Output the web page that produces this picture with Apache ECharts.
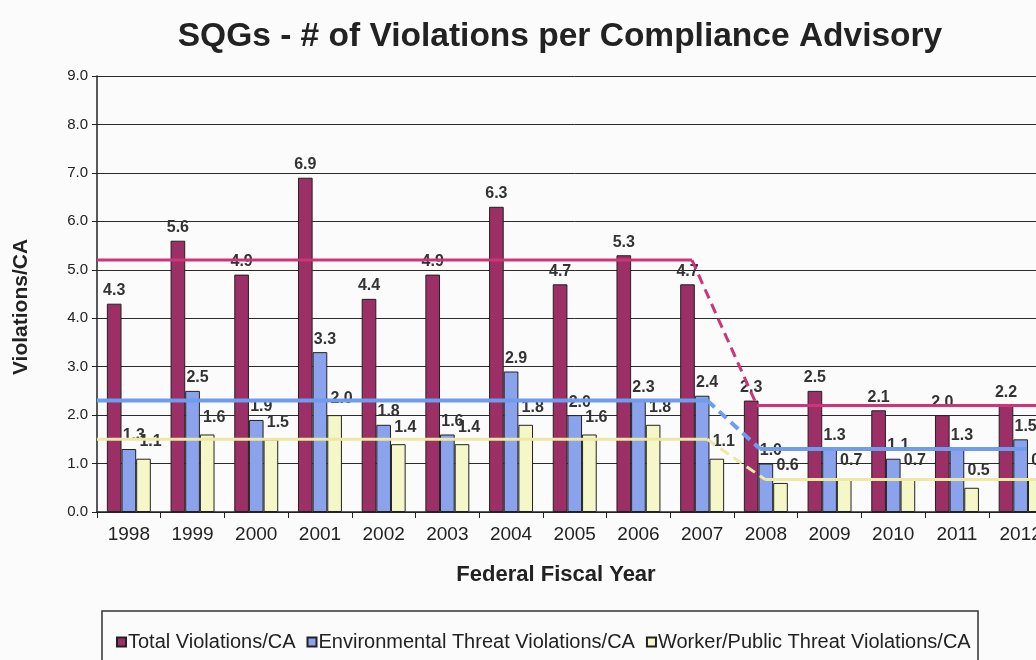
<!DOCTYPE html>
<html>
<head>
<meta charset="utf-8">
<script src="https://cdn.jsdelivr.net/npm/echarts@6/dist/echarts.min.js"></script>
<style>
  html, body { margin: 0; padding: 0; overflow: hidden; background: #fbfbfb; }
  #chart { width: 1120px; height: 660px; }
</style>
</head>
<body>
<div id="chart"></div>
<script>
// ---- data ----
const years = ['1998','1999','2000','2001','2002','2003','2004','2005','2006','2007','2008','2009','2010','2011','2012'];
const totalViol  = [4.3, 5.6, 4.9, 6.9, 4.4, 4.9, 6.3, 4.7, 5.3, 4.7, 2.3, 2.5, 2.1, 2.0, 2.2];
const envViol    = [1.3, 2.5, 1.9, 3.3, 1.8, 1.6, 2.9, 2.0, 2.3, 2.4, 1.0, 1.3, 1.1, 1.3, 1.5];
const workerViol = [1.1, 1.6, 1.5, 2.0, 1.4, 1.4, 1.8, 1.6, 1.8, 1.1, 0.6, 0.7, 0.7, 0.5, 0.7];
// period averages (before / after 2008)
const avgTotal  = [5.2, 2.2];
const avgEnv    = [2.3, 1.3];
const avgWorker = [1.5, 0.67];
const lastYearBefore = 2007;
const firstYearAfter = 2008;
const yTickMin = 0, yTickMax = 9, yTickStep = 1;

const seriesNames = ['Total Violations/CA', 'Environmental Threat Violations/CA', 'Worker/Public Threat Violations/CA'];

// ---- styles ----
const barColors  = ['#9b2f66', '#8aa3ec', '#f6f7c9'];
const lineColors = ['#cf3478', '#6f9ced', '#eee8a2'];
const lineWidths = [3, 4, 3];
// where each average line breaks, relative to the period boundary years (layout)
const breakShift = [[-0.16, -0.14], [0.08, -0.09], [0.08, -0.01]];
const lineEnd = [2012.5, 2012.1, 2012.5];
const labelOffsets = [[0, 0], [5, 0], [7, -4]];
const FONT = 'Liberation Sans, Arial, sans-serif';

const chart = echarts.init(document.getElementById('chart'), null, { renderer: 'canvas' });

const barSeries = [totalViol, envViol, workerViol].map((vals, i) => ({
  name: seriesNames[i],
  type: 'bar',
  xAxisIndex: 0,
  yAxisIndex: 0,
  data: vals,
  barGap: '0%',
  barCategoryGap: '31%',
  z: 2,
  itemStyle: { color: barColors[i], borderColor: '#222', borderWidth: 1 },
  label: {
    show: true,
    position: 'top',
    distance: 5,
    offset: labelOffsets[i],
    formatter: p => Number(p.value).toFixed(1),
    fontFamily: FONT,
    fontSize: 16,
    fontWeight: 'bold',
    color: '#333'
  }
}));

const lineSeries = [];
[avgTotal, avgEnv, avgWorker].forEach((avg, i) => {
  const xBreak1 = lastYearBefore + breakShift[i][0];
  const xBreak2 = firstYearAfter + breakShift[i][1];
  const common = {
    type: 'line', xAxisIndex: 1, yAxisIndex: 0, symbol: 'none', silent: true, z: 5,
    animation: false
  };
  lineSeries.push(Object.assign({}, common, {
    data: [[1997.5, avg[0]], [xBreak1, avg[0]]],
    lineStyle: { color: lineColors[i], width: lineWidths[i], type: 'solid' }
  }));
  lineSeries.push(Object.assign({}, common, {
    data: [[xBreak1, avg[0]], [xBreak2, avg[1]]],
    lineStyle: { color: lineColors[i], width: lineWidths[i], type: [10, 6] }
  }));
  lineSeries.push(Object.assign({}, common, {
    data: [[xBreak2, avg[1]], [lineEnd[i], avg[1]]],
    lineStyle: { color: lineColors[i], width: lineWidths[i], type: 'solid' }
  }));
});

const option = {
  backgroundColor: '#fbfbfb',
  animation: false,
  textStyle: { fontFamily: FONT },
  title: {
    text: 'SQGs - # of Violations per Compliance Advisory',
    left: 'center',
    top: 15,
    textStyle: { fontFamily: FONT, fontSize: 33.5, fontWeight: 'bold', color: '#222' }
  },
  grid: { left: 97, top: 76, right: 67.5, bottom: 148, containLabel: false },
  legend: {
    data: seriesNames,
    left: 111,
    top: 627,
    icon: 'rect',
    itemWidth: 9,
    itemHeight: 9,
    itemGap: 11,
    textStyle: { fontFamily: FONT, fontSize: 20, color: '#222', padding: [0, 0, 0, -3] }
  },
  xAxis: [
    {
      type: 'category',
      data: years,
      boundaryGap: true,
      axisLine: { lineStyle: { color: '#222', width: 1.5 } },
      axisTick: { show: true, length: 6, lineStyle: { color: '#222' } },
      axisLabel: { fontFamily: FONT, fontSize: 19, color: '#222', margin: 13 },
      splitLine: { show: false }
    },
    { type: 'value', min: 1997.5, max: 2012.5, show: false }
  ],
  yAxis: [{
    type: 'value',
    min: yTickMin,
    max: yTickMax,
    interval: yTickStep,
    axisLine: { show: true, lineStyle: { color: '#222', width: 1.5 } },
    axisTick: { show: true, length: 5, lineStyle: { color: '#222' } },
    axisLabel: {
      fontFamily: FONT, fontSize: 15, color: '#222', margin: 9,
      formatter: v => v.toFixed(1)
    },
    splitLine: { show: true, lineStyle: { color: '#2a2a2a', width: 1 } }
  }],
  graphic: [
    {
      type: 'text', x: 21, y: 307, rotation: Math.PI / 2,
      style: { text: 'Violations/CA', align: 'center', verticalAlign: 'middle',
               font: 'bold 21px "Liberation Sans", Arial, sans-serif', fill: '#222' }
    },
    {
      type: 'text', x: 556, y: 575,
      style: { text: 'Federal Fiscal Year', align: 'center', verticalAlign: 'middle',
               font: 'bold 22px "Liberation Sans", Arial, sans-serif', fill: '#222' }
    },
    {
      type: 'rect', shape: { x: 102, y: 611, width: 876, height: 70 },
      style: { fill: 'none', stroke: '#333', lineWidth: 1.5 }, z: 0
    }
  ],
  series: barSeries.concat(lineSeries)
};
chart.setOption(option);
</script>
</body>
</html>
